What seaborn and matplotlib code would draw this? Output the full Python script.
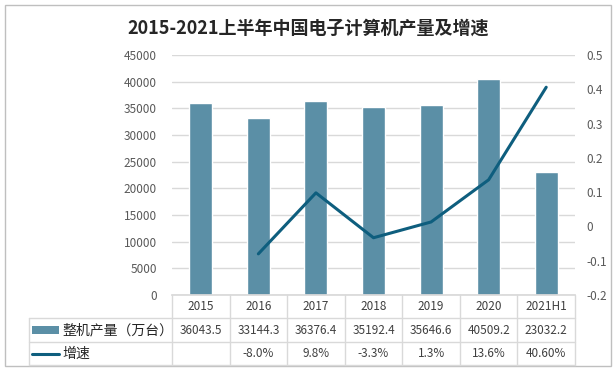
import matplotlib
matplotlib.use("Agg")
import matplotlib.pyplot as plt
import seaborn as sns
import pandas as pd
import numpy as np
from matplotlib.patches import Rectangle
from matplotlib.lines import Line2D

years = ["2015", "2016", "2017", "2018", "2019", "2020", "2021H1"]
output = [36043.5, 33144.3, 36376.4, 35192.4, 35646.6, 40509.2, 23032.2]
growth_years = ["2016", "2017", "2018", "2019", "2020", "2021H1"]
growth = [-0.080, 0.098, -0.033, 0.013, 0.136, 0.406]
output_labels = ["36043.5", "33144.3", "36376.4", "35192.4", "35646.6", "40509.2", "23032.2"]
growth_labels = ["", "-8.0%", "9.8%", "-3.3%", "1.3%", "13.6%", "40.60%"]
series_names = ["整机产量（万台）", "增速"]
title = "2015-2021上半年中国电子计算机产量及增速"

bar_color = "#5B8FA6"
line_color = "#0E5E7E"
grid_color = "#D9D9D9"
text_color = "#595959"

sns.set_theme(style="white")
plt.rcParams['font.family'] = ['Noto Sans CJK SC', 'DejaVu Sans']

W, H = 616, 371
fig = plt.figure(figsize=(W / 100, H / 100), dpi=100)

def fx(px):
    return px / W

def fy(py):
    return 1 - py / H

left, right, top, bottom = 172, 575, 55, 295
ax = fig.add_axes([fx(left), fy(bottom), fx(right - left), fy(top) - fy(bottom)])

df = pd.DataFrame({"year": years, "output": output})
sns.barplot(data=df, x="year", y="output", order=years, color=bar_color,
            width=0.4, saturation=1, ax=ax)
ax.set_ylim(0, 45000)
ax.set_yticks(np.arange(0, 45001, 5000))
ax.set_xlim(-0.5, len(years) - 0.5)
ax.yaxis.grid(True, color=grid_color, linewidth=1)
ax.set_axisbelow(True)
ax.set_xlabel("")
ax.set_ylabel("")
ax.set_xticks([])
for s in ["top", "right", "left"]:
    ax.spines[s].set_visible(False)
ax.spines["bottom"].set_color(grid_color)
ax.tick_params(axis="y", length=0, labelsize=8.5, labelcolor=text_color, pad=11)

ax2 = ax.twinx()
gx = [years.index(y) for y in growth_years]
sns.lineplot(x=gx, y=growth, color=line_color, linewidth=2.2, ax=ax2)
ax2.set_ylim(-0.2, 0.5)
ax2.set_yticks([-0.2, -0.1, 0, 0.1, 0.2, 0.3, 0.4, 0.5])
ax2.set_yticklabels(["-0.2", "-0.1", "0", "0.1", "0.2", "0.3", "0.4", "0.5"])
ax2.set_xlim(-0.5, len(years) - 0.5)
ax2.set_ylabel("")
for s in ["top", "right", "left", "bottom"]:
    ax2.spines[s].set_visible(False)
ax2.tick_params(axis="y", length=0, labelsize=8.5, labelcolor=text_color, pad=8)

# Title
fig.text(0.5, fy(28), title, ha="center", va="center", fontsize=13,
         fontweight="bold", color="#262626")

# Data table
tbl_left = 29
rows_y = [295, 318, 342, 365]
col_edges = [left + (right - left) * i / len(years) for i in range(len(years) + 1)]
lc = grid_color
for i, xe in enumerate(col_edges):
    fig.add_artist(Line2D([fx(xe), fx(xe)], [fy(rows_y[0]), fy(rows_y[3])],
                          color=lc, linewidth=1, transform=fig.transFigure))
fig.add_artist(Line2D([fx(tbl_left), fx(tbl_left)], [fy(rows_y[1]), fy(rows_y[3])],
                      color=lc, linewidth=1, transform=fig.transFigure))
for yy in rows_y[1:]:
    fig.add_artist(Line2D([fx(tbl_left), fx(right)], [fy(yy), fy(yy)],
                          color=lc, linewidth=1, transform=fig.transFigure))

for i, y in enumerate(years):
    cx = (col_edges[i] + col_edges[i + 1]) / 2
    fig.text(fx(cx), fy((rows_y[0] + rows_y[1]) / 2), y, ha="center", va="center",
             fontsize=8.5, color="#404040")
    fig.text(fx(cx), fy((rows_y[1] + rows_y[2]) / 2), output_labels[i], ha="center",
             va="center", fontsize=8.5, color="#404040")
    fig.text(fx(cx), fy((rows_y[2] + rows_y[3]) / 2), growth_labels[i], ha="center",
             va="center", fontsize=8.5, color="#404040")

r1c = (rows_y[1] + rows_y[2]) / 2
r2c = (rows_y[2] + rows_y[3]) / 2
fig.add_artist(Rectangle((fx(32), fy(r1c + 4)), fx(27), fy(r1c - 4) - fy(r1c + 4),
                         facecolor=bar_color, edgecolor="none", transform=fig.transFigure))
fig.add_artist(Line2D([fx(32), fx(59)], [fy(r2c), fy(r2c)], color=line_color,
                      linewidth=2.2, transform=fig.transFigure))
fig.text(fx(62), fy(r1c), series_names[0], ha="left", va="center", fontsize=10, color="#262626")
fig.text(fx(62), fy(r2c), series_names[1], ha="left", va="center", fontsize=10, color="#262626")

fig.add_artist(Rectangle((fx(5), fy(366)), fx(606), fy(5) - fy(366), facecolor="none",
                         edgecolor="#BFBFBF", linewidth=1, transform=fig.transFigure))

fig.savefig("out.png", dpi=100)
